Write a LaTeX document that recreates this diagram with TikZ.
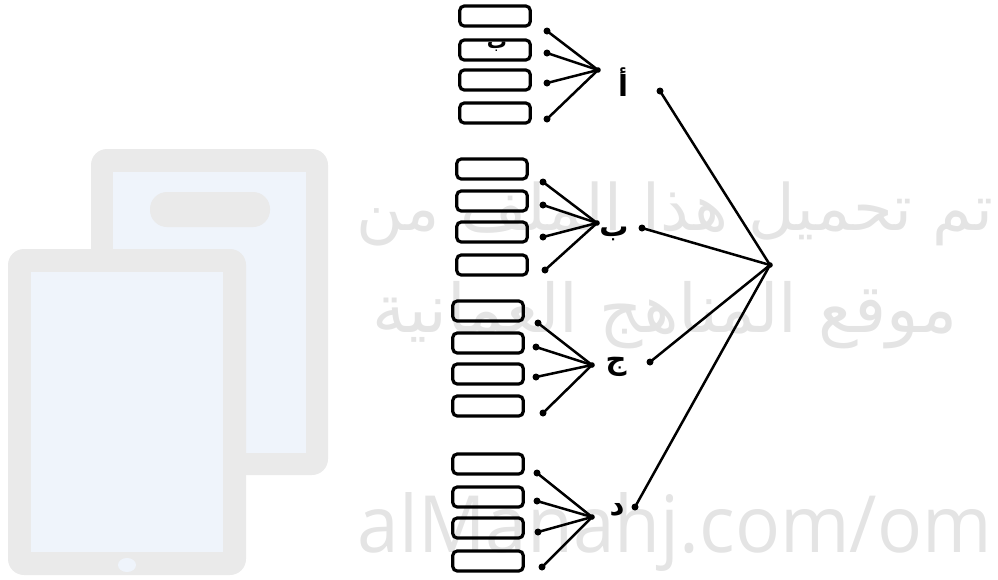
\documentclass[tikz,border=0pt]{standalone}
\usepackage{fontspec}
\usepackage{graphicx}
\newfontfamily\arabicfont[Script=Arabic]{DejaVu Sans}
\newfontfamily\markfont{Open Sans}
\TeXXeTstate=1

\definecolor{framegray}{HTML}{EAEAEA}
\definecolor{screenblue}{HTML}{EFF4FB}
\definecolor{markgray}{HTML}{E4E4E4}

\tikzset{
  slot/.style={draw, line width=3.2pt, rounded corners=4.5pt,
    minimum width=70.5pt, minimum height=20pt, inner sep=0pt},
  wire/.style={line width=2.5pt},
  letter/.style={font=\arabicfont\bfseries\fontsize{29}{29}\selectfont, inner sep=0pt},
  mark text/.style={color=markgray, inner sep=0pt, anchor=base},
}

\begin{document}
\begin{tikzpicture}[x=1pt, y=-1pt]
    \useasboundingbox (0,0) rectangle (998,579);

    % the two tablets behind everything
    \fill[framegray, rounded corners=16pt] (91,149) rectangle (328,475);
    \fill[screenblue] (113,172) rectangle (306,453);
    \fill[framegray, rounded corners=17pt] (150,192) rectangle (270,227);
    \fill[framegray, rounded corners=16pt] (8,249) rectangle (246,575);
    \fill[screenblue] (31,272) rectangle (223,552);
    \fill[screenblue] (127,565) ellipse [x radius=9, y radius=7];

    % the lines of text over them
    \node[mark text] (mark1) at (675,230)
        {\resizebox{636pt}{!}{\arabicfont\beginR تم تحميل هذا الملف من\endR}};
    \node[mark text] (mark2) at (665,332)
        {\resizebox{585pt}{!}{\arabicfont\beginR موقع المناهج العمانية\endR}};
    \node[mark text] (mark3) at (675,552)
        {\resizebox{634pt}{60pt}{\markfont alManahj.com/om}};

    % group A: the boxes, the wire ends and the hub
    \foreach \y [count=\i] in {16,50,80,113}
        \node[slot] (a\i) at (495,\y) {};
    \node[font=\arabicfont\bfseries\fontsize{20}{20}\selectfont, inner sep=0pt]
        (a2t) at (497,47) {ب};
    \foreach \y [count=\i] in {31,53,83,119}
        \coordinate (ea\i) at (547,\y);
    \coordinate (ha) at (598,70);
    \node[letter] (la) at (623,82) {أ};
    \coordinate (ra) at (660,91);

    % group B
    \foreach \y [count=\i] in {169,201,232,265}
        \node[slot] (b\i) at (492,\y) {};
    \foreach \y/\x [count=\i] in {182/543,205/543,237/543,270/545}
        \coordinate (eb\i) at (\x,\y);
    \coordinate (hb) at (597,223);
    \node[letter] (lb) at (614,234) {ب};
    \coordinate (rb) at (642,228);

    % group C
    \foreach \y [count=\i] in {311,343,374,406}
        \node[slot] (c\i) at (488,\y) {};
    \foreach \y/\x [count=\i] in {323/538,347/536,377/536,413/543}
        \coordinate (ec\i) at (\x,\y);
    \coordinate (hc) at (592,365);
    \node[letter] (lc) at (616,367) {ج};
    \coordinate (rc) at (650,362);

    % group D
    \foreach \y [count=\i] in {464,497,528,561}
        \node[slot] (d\i) at (488,\y) {};
    \foreach \y/\x [count=\i] in {473/537,501/537,532/538,567/542}
        \coordinate (ed\i) at (\x,\y);
    \coordinate (hd) at (592,517);
    \node[letter] (ld) at (617,510) {د};
    \coordinate (rd) at (635,507);

    % the wires from each group to its hub
    \foreach \g in {a,b,c,d} {
        \foreach \i in {1,...,4} {
            \draw[wire] (e\g\i) -- (h\g);
            \fill (e\g\i) circle (3.5);
        }
        \fill (h\g) circle (2.8);
    }

    % the big hub on the right
    \coordinate (hub) at (770,265);
    \foreach \g in {a,b,c,d} {
        \draw[wire] (r\g) -- (hub);
        \fill (r\g) circle (3.5);
    }
    \fill (hub) circle (2.8);
\end{tikzpicture}
\end{document}
